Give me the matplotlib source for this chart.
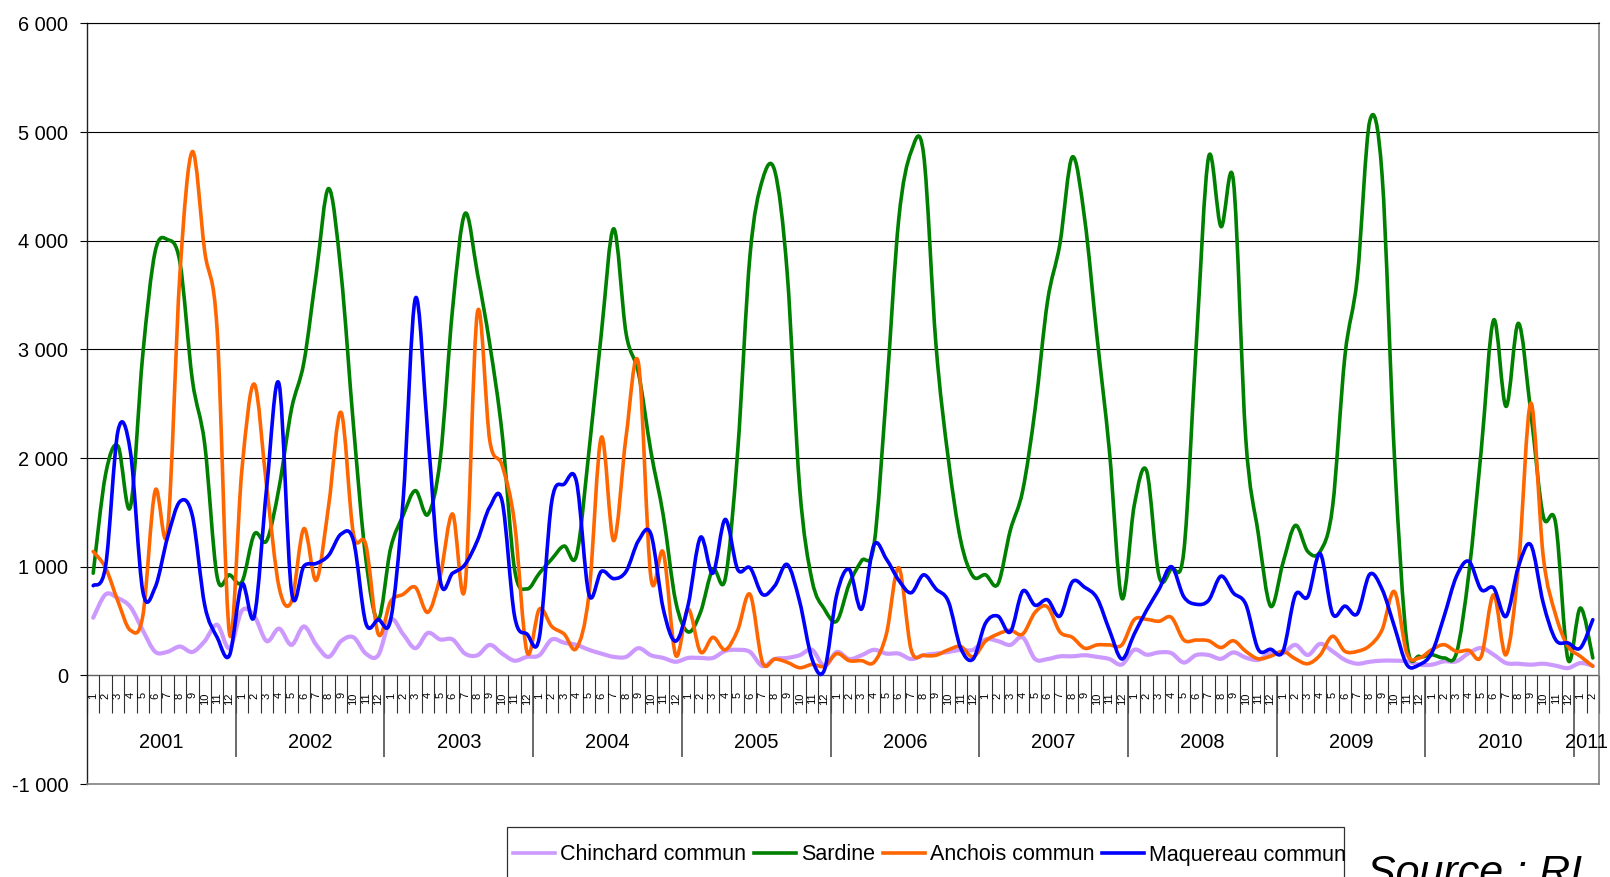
import numpy as np
import matplotlib
matplotlib.use("Agg")
import matplotlib.pyplot as plt
from matplotlib.path import Path
from matplotlib.patches import PathPatch, Rectangle
from matplotlib.lines import Line2D
from matplotlib.ticker import FuncFormatter

plt.rcParams['font.family'] = ['Liberation Sans', 'DejaVu Sans']

# ---------------- data (monthly, Jan 2001 .. Feb 2011) ----------------
years = [2001, 2002, 2003, 2004, 2005, 2006, 2007, 2008, 2009, 2010, 2011]
months = list(range(1, 13)) * 10 + [1, 2]

series_names = ["Chinchard commun", "Sardine", "Anchois commun", "Maquereau commun"]
series_colors = ["#CC99FF", "#008000", "#FF6600", "#0000FF"]
series_widths = [3.0, 2.6, 2.6, 2.6]

chinchard = [530, 745, 710, 630, 415, 217, 217, 265, 215, 315, 465, 250,
             595, 545, 315, 430, 280, 450, 280, 170, 315, 350, 200, 185,
             513, 380, 250, 390, 330, 330, 200, 185, 280, 200, 135, 170,
             185, 330, 300, 280, 235, 200, 170, 170, 250, 185, 160, 125,
             160, 160, 160, 225, 235, 215, 85, 150, 160, 185, 235, 85,
             215, 150, 185, 235, 200, 200, 150, 185, 200, 215, 235, 235,
             330, 315, 280, 350, 150, 150, 175, 175, 185, 170, 150, 100,
             235, 190, 211, 204, 118, 187, 187, 152, 211, 163, 142, 204,
             204, 280, 187, 290, 221, 142, 107, 125, 135, 135, 129, 98,
             98, 129, 129, 205, 252, 190, 113, 107, 98, 107, 89, 67,
             113, 89]

sardine = [940, 1850, 2110, 1550, 2950, 3900, 4010, 3800, 2720, 2125, 908, 925,
           860, 1300, 1240, 1730, 2450, 2880, 3700, 4480, 3700, 2300, 1070, 513,
           1170, 1470, 1700, 1480, 1990, 3375, 4250, 3700, 3045, 2220, 975, 795,
           940, 1070, 1190, 1105, 2060, 3145, 4110, 3145, 2780, 2060, 1470, 680,
           400, 580, 975, 890, 2060, 3870, 4560, 4640, 3700, 1730, 875, 610,
           500, 840, 1055, 1200, 2600, 4200, 4820, 4800, 3045, 1990, 1240, 910,
           925, 840, 1335, 1700, 2450, 3440, 3970, 4770, 4200, 3110, 2060, 710,
           1565, 1880, 913, 983, 1140, 3040, 4770, 4130, 4550, 2175, 1310, 637,
           1035, 1380, 1140, 1140, 1550, 2940, 3665, 5100, 4600, 2000, 300, 175,
           190, 160, 205, 940, 2075, 3270, 2475, 3240, 2415, 1465, 1400, 145,
           620, 160]

anchois = [1140, 990, 680, 415, 545, 1700, 1335, 3700, 4820, 3900, 3180, 380,
           1895, 2680, 1730, 810, 680, 1350, 875, 1565, 2420, 1300, 1200, 380,
           680, 745, 810, 580, 910, 1485, 810, 3340, 2160, 1930, 1400, 215,
           610, 450, 380, 250, 745, 2190, 1240, 2200, 2870, 900, 1130, 185,
           610, 215, 350, 235, 415, 745, 120, 150, 120, 70, 100, 85,
           200, 135, 135, 120, 380, 990, 235, 185, 185, 235, 265, 170,
           315, 380, 415, 380, 580, 630, 400, 350, 250, 280, 280, 280,
           513, 515, 498, 533, 325, 325, 318, 256, 318, 221, 152, 176,
           221, 152, 107, 187, 360, 221, 221, 273, 420, 770, 200, 160,
           236, 282, 220, 230, 175, 742, 190, 1000, 2505, 1095, 558, 267,
           175, 83]

maquereau = [825, 1005, 2250, 2060, 775, 810, 1270, 1600, 1470, 645, 350, 185,
             840, 545, 1730, 2680, 775, 1005, 1030, 1105, 1300, 1240, 480, 513,
             513, 1600, 3470, 2220, 875, 940, 1020, 1240, 1550, 1600, 545, 380,
             350, 1600, 1760, 1780, 745, 957, 890, 957, 1240, 1300, 610, 315,
             645, 1270, 940, 1435, 975, 990, 745, 825, 1020, 680, 150, 50,
             745, 975, 610, 1200, 1070, 875, 760, 925, 795, 680, 250, 150,
             480, 545, 400, 775, 645, 695, 545, 860, 810, 710, 415, 150,
             380, 600, 792, 1000, 723, 654, 690, 913, 758, 654, 240, 240,
             221, 740, 723, 1120, 567, 637, 567, 930, 792, 446, 98, 98,
             205, 543, 911, 1049, 788, 804, 543, 1000, 1200, 666, 328, 298,
             252, 512]

y_ticks = [-1000, 0, 1000, 2000, 3000, 4000, 5000, 6000]

# ---------------- figure ----------------
W, H = 1610, 877
fig = plt.figure(figsize=(W / 100, H / 100), dpi=100)
fig.patch.set_facecolor("white")

top_px, bot_px = 23.4, 784.0
ax = fig.add_axes([87 / W, 1 - bot_px / H, (1599 - 87) / W, (bot_px - top_px) / H])
n = len(months)
ax.set_xlim(-0.5, n - 0.5)
ax.set_ylim(y_ticks[0], y_ticks[-1])

px_per_unit = (bot_px - top_px) / (y_ticks[-1] - y_ticks[0])  # pixels per data unit


def smooth_path(x, y):
    """Excel-like smoothed line (Bezier through every data point)."""
    verts = [(x[0], y[0])]
    codes = [Path.MOVETO]
    m = len(x)
    for i in range(m - 1):
        p0 = i - 1 if i > 0 else i
        p3 = i + 2 if i + 2 < m else i + 1
        c1 = (x[i] + (x[i + 1] - x[p0]) / 6.0, y[i] + (y[i + 1] - y[p0]) / 6.0)
        c2 = (x[i + 1] - (x[p3] - x[i]) / 6.0, y[i + 1] - (y[p3] - y[i]) / 6.0)
        verts += [c1, c2, (x[i + 1], y[i + 1])]
        codes += [Path.CURVE4] * 3
    return Path(verts, codes)


# gridlines
for v in y_ticks:
    if v > 0:
        ax.axhline(v, color="black", lw=0.8, zorder=1)
ax.axhline(0, color="#606060", lw=1.0, zorder=1)

# series
xs = np.arange(n)
all_series = [chinchard, sardine, anchois, maquereau]
for vals, col, lw, name in zip(all_series, series_colors, series_widths, series_names):
    p = PathPatch(smooth_path(xs, np.asarray(vals, float)), fill=False,
                  edgecolor=col, lw=lw, zorder=3, capstyle="round",
                  joinstyle="round", label=name)
    ax.add_patch(p)

# spines
ax.spines["left"].set_color("#202020")
ax.spines["left"].set_linewidth(1.0)
for s in ["bottom", "right"]:
    ax.spines[s].set_color("#808080")
    ax.spines[s].set_linewidth(1.2)
ax.spines["top"].set_color("black")
ax.spines["top"].set_linewidth(0.8)

# y axis
ax.set_yticks(y_ticks)
ax.yaxis.set_major_formatter(FuncFormatter(lambda v, p: f"{int(v):,}".replace(",", " ")))
ax.tick_params(axis="y", direction="out", length=5, width=0.8, pad=8.5,
               labelsize=14.4, colors="black")
ax.set_xticks([])

# category axis (month ticks, month labels, year groups)
tick_len = 38 / px_per_unit
year_len = 82 / px_per_unit
ax.vlines(np.arange(n + 1) - 0.5, -tick_len, 0, color="#303030", lw=0.8, zorder=2,
          clip_on=False)
year_bounds = [k for k in range(12, n, 12)]
ax.vlines(np.array(year_bounds) - 0.5, -year_len, 0, color="#505050", lw=1.2, zorder=2)

label_top = -17 / px_per_unit
for i, m in enumerate(months):
    ax.text(i, label_top, str(m), rotation=90, ha="center", va="top",
            fontsize=8, color="black", clip_on=False)

year_y = -67 / px_per_unit
for k, yr in enumerate(years):
    idx = [i for i in range(n) if i // 12 == k]
    ax.text(np.mean([idx[0] - 0.5, idx[-1] + 0.5]), year_y, str(yr), ha="center",
            va="center", fontsize=14.4, color="black", clip_on=False)

# legend
handles = [Line2D([], [], color=c, lw=2.6) for c in series_colors]
fig.legend(handles, series_names, loc="center left",
           bbox_to_anchor=(513 / W, 1 - 855 / H), ncol=4, frameon=False,
           fontsize=15.5, handlelength=1.95, handletextpad=0.23,
           columnspacing=0.37, borderpad=0, borderaxespad=0)
fig.patches.append(Rectangle((507 / W, -0.05), (1344 - 507) / W, (1 - 827 / H) + 0.05,
                             transform=fig.transFigure, fill=False,
                             edgecolor="#303030", lw=0.9))

fig.text(1367 / W, 1 - 885 / H, "Source : RI", fontsize=31, style="italic",
         ha="left", va="baseline", color="black")

fig.savefig("out.png", dpi=100, facecolor="white")
